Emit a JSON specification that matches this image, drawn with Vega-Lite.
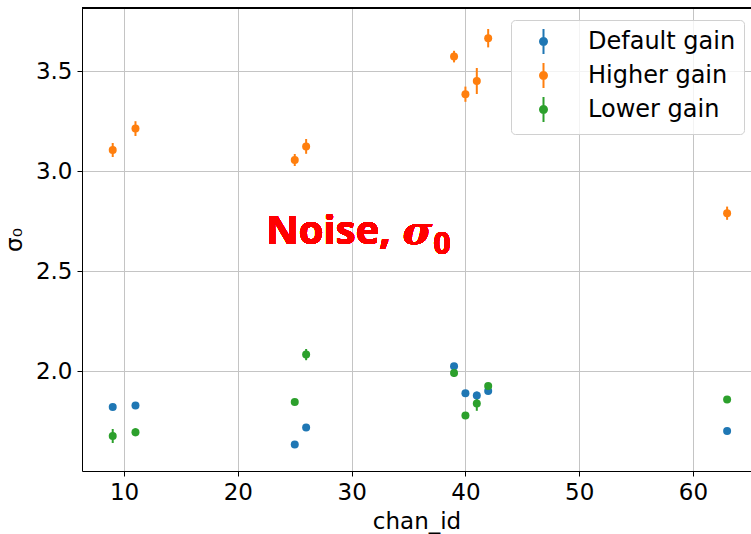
{
  "$schema": "https://vega.github.io/schema/vega-lite/v6.json",
  "autosize": {"type": "none"},
  "padding": {"left": 82, "top": 8, "right": 0, "bottom": 63},
  "width": 669,
  "height": 463,
  "background": "white",
  "config": {
    "view": {"stroke": null},
    "font": "DejaVu Sans",
    "axis": {
      "labelFont": "DejaVu Sans",
      "titleFont": "DejaVu Sans",
      "labelFontSize": 23,
      "titleFontSize": 23,
      "labelColor": "#000",
      "titleColor": "#000",
      "titleFontWeight": "normal",
      "domainColor": "#000",
      "domainWidth": 1,
      "tickColor": "#000",
      "tickSize": 5,
      "tickWidth": 1,
      "gridColor": "#c4c4c4",
      "gridWidth": 1,
      "labelPadding": 5
    }
  },
  "data": {
    "values": [
      {"chan_id": 9, "sigma": 1.820, "err": 0.007, "gain": "Default gain"},
      {"chan_id": 11, "sigma": 1.827, "err": 0.007, "gain": "Default gain"},
      {"chan_id": 25, "sigma": 1.632, "err": 0.012, "gain": "Default gain"},
      {"chan_id": 26, "sigma": 1.717, "err": 0.007, "gain": "Default gain"},
      {"chan_id": 39, "sigma": 2.024, "err": 0.012, "gain": "Default gain"},
      {"chan_id": 40, "sigma": 1.889, "err": 0.007, "gain": "Default gain"},
      {"chan_id": 41, "sigma": 1.877, "err": 0.02, "gain": "Default gain"},
      {"chan_id": 42, "sigma": 1.900, "err": 0.008, "gain": "Default gain"},
      {"chan_id": 63, "sigma": 1.700, "err": 0.006, "gain": "Default gain"},
      {"chan_id": 9, "sigma": 3.105, "err": 0.035, "gain": "Higher gain"},
      {"chan_id": 11, "sigma": 3.212, "err": 0.037, "gain": "Higher gain"},
      {"chan_id": 25, "sigma": 3.055, "err": 0.03, "gain": "Higher gain"},
      {"chan_id": 26, "sigma": 3.123, "err": 0.037, "gain": "Higher gain"},
      {"chan_id": 39, "sigma": 3.572, "err": 0.029, "gain": "Higher gain"},
      {"chan_id": 40, "sigma": 3.384, "err": 0.038, "gain": "Higher gain"},
      {"chan_id": 41, "sigma": 3.450, "err": 0.065, "gain": "Higher gain"},
      {"chan_id": 42, "sigma": 3.664, "err": 0.046, "gain": "Higher gain"},
      {"chan_id": 63, "sigma": 2.789, "err": 0.033, "gain": "Higher gain"},
      {"chan_id": 9, "sigma": 1.675, "err": 0.035, "gain": "Lower gain"},
      {"chan_id": 11, "sigma": 1.694, "err": 0.02, "gain": "Lower gain"},
      {"chan_id": 25, "sigma": 1.845, "err": 0.01, "gain": "Lower gain"},
      {"chan_id": 26, "sigma": 2.082, "err": 0.028, "gain": "Lower gain"},
      {"chan_id": 39, "sigma": 1.990, "err": 0.02, "gain": "Lower gain"},
      {"chan_id": 40, "sigma": 1.777, "err": 0.01, "gain": "Lower gain"},
      {"chan_id": 41, "sigma": 1.837, "err": 0.036, "gain": "Lower gain"},
      {"chan_id": 42, "sigma": 1.925, "err": 0.015, "gain": "Lower gain"},
      {"chan_id": 63, "sigma": 1.857, "err": 0.01, "gain": "Lower gain"}
    ]
  },
  "encoding": {
    "x": {"field": "chan_id", "type": "quantitative",
      "scale": {"domain": [6.3, 65.1], "nice": false, "zero": false},
      "axis": {"values": [10, 20, 30, 40, 50, 60], "title": "chan_id", "titlePadding": 6, "grid": true}},
    "y": {"field": "sigma", "type": "quantitative",
      "scale": {"domain": [1.5, 3.815], "nice": false, "zero": false},
      "axis": {"values": [2.0, 2.5, 3.0, 3.5], "format": ".1f", "title": "σ₀", "titlePadding": 9, "grid": true}},
    "color": {"field": "gain", "type": "nominal",
      "scale": {"domain": ["Default gain", "Higher gain", "Lower gain"], "range": ["#1f77b4", "#ff7f0e", "#2ca02c"]},
      "legend": {
        "title": null,
        "orient": "none",
        "legendX": 429,
        "legendY": 12,
        "padding": 8,
        "symbolOffset": 11,
        "symbolType": "M0,-1L0,1M0.28,0A0.28,0.28,0,1,1,-0.28,0A0.28,0.28,0,1,1,0.28,0Z",
        "symbolSize": 625,
        "symbolStrokeWidth": 2,
        "labelFont": "DejaVu Sans",
        "labelFontSize": 24,
        "labelColor": "#000",
        "labelOffset": 31,
        "rowPadding": 1,
        "fillColor": "rgba(255,255,255,0.8)",
        "strokeColor": "#d0d0d0",
        "cornerRadius": 4,
        "encode": {"symbols": {"update": {"stroke": {"scale": "color", "field": "value"}, "fill": {"scale": "color", "field": "value"}, "opacity": {"value": 1}}}}
      }}
  },
  "layer": [
    {
      "mark": {"type": "rule", "color": "#000", "strokeWidth": 1},
      "encoding": {"x": null, "color": null, "y": {"datum": 3.815, "type": "quantitative"}}
    },
    {
      "mark": {"type": "errorbar", "rule": {"strokeWidth": 2}},
      "encoding": {
        "yError": {"field": "err"}
      }
    },
    {
      "mark": {"type": "point", "filled": true, "size": 64, "opacity": 1}
    },
    {
      "mark": {"type": "text", "text": "Noise,", "font": "Open Sans", "fontWeight": "bold", "fontSize": 40, "color": "#ff0000", "align": "left", "baseline": "alphabetic"},
      "encoding": {"color": null, "x": {"datum": 22.5, "type": "quantitative"}, "y": {"datum": 2.634, "type": "quantitative"}}
    },
    {
      "mark": {"type": "text", "text": "σ", "font": "DejaVu Serif", "fontWeight": "bold", "fontStyle": "italic", "fontSize": 40, "color": "#ff0000", "align": "left", "baseline": "alphabetic"},
      "encoding": {"color": null, "x": {"datum": 34.5, "type": "quantitative"}, "y": {"datum": 2.634, "type": "quantitative"}}
    },
    {
      "mark": {"type": "text", "text": "0", "font": "Open Sans", "fontWeight": "bold", "fontSize": 30, "color": "#ff0000", "align": "left", "baseline": "alphabetic"},
      "encoding": {"color": null, "x": {"datum": 37.2, "type": "quantitative"}, "y": {"datum": 2.584, "type": "quantitative"}}
    }
  ]
}
